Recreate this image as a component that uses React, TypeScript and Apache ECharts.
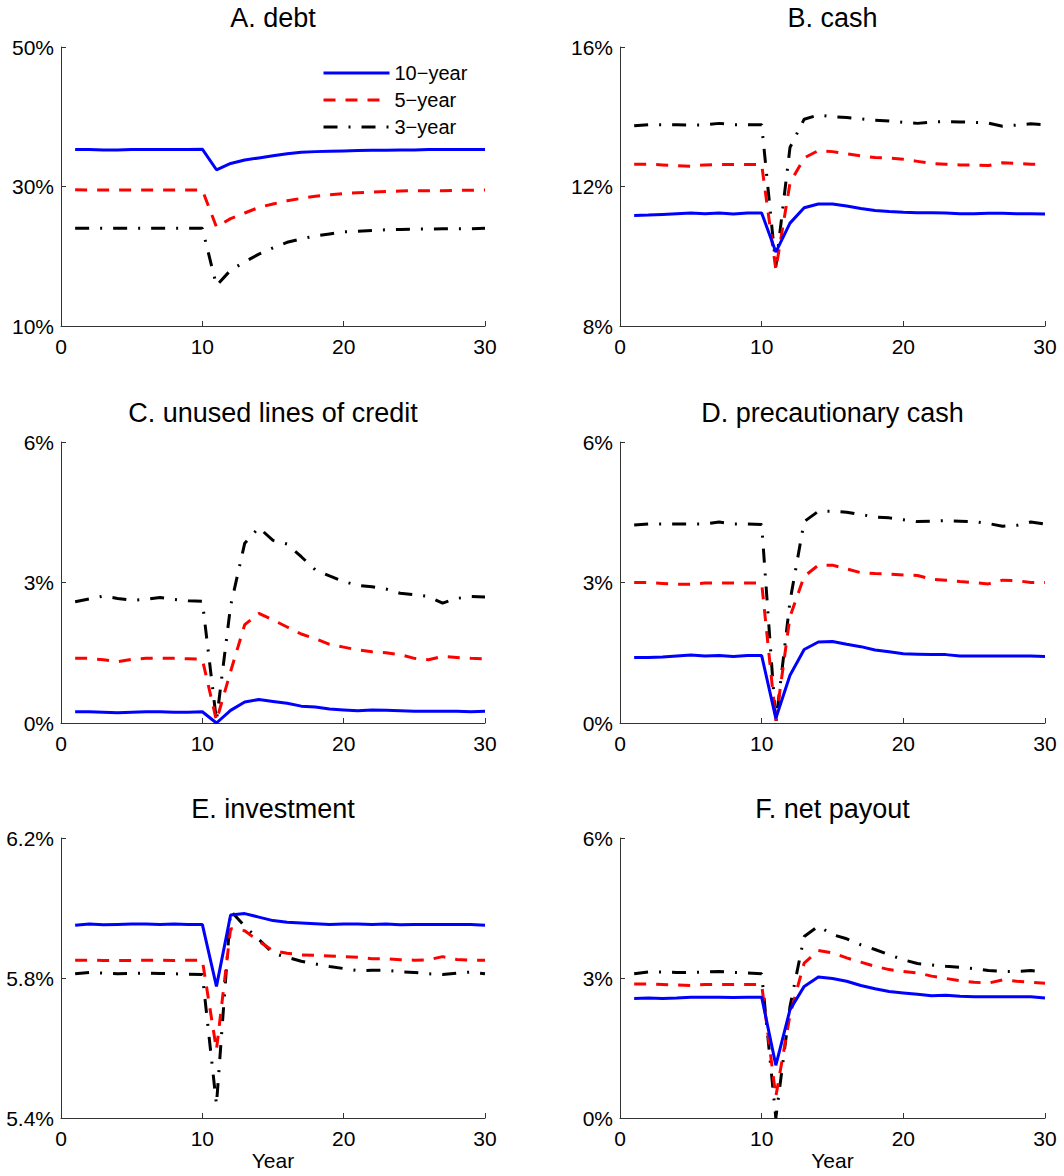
import React, { useEffect, useRef } from "react";
import * as echarts from "echarts";

const years = Array.from({ length: 30 }, (_, i) => i + 1);
const seriesNames = ["10\u2212year", "5\u2212year", "3\u2212year"];
const titles = ["A. debt", "B. cash", "C. unused lines of credit", "D. precautionary cash", "E. investment", "F. net payout"];
const xTicks = [0, 10, 20, 30];
const yTicksA = [10, 30, 50];
const yTicksB = [8, 12, 16];
const yTicksC = [0, 3, 6];
const yTicksD = [0, 3, 6];
const yTicksE = [5.4, 5.8, 6.2];
const yTicksF = [0, 3, 6];

const debt10 = [35.3,35.3,35.25,35.25,35.3,35.3,35.3,35.3,35.3,35.35,32.4,33.3,33.8,34.1,34.4,34.7,34.9,35.0,35.05,35.1,35.15,35.2,35.2,35.25,35.25,35.3,35.3,35.3,35.3,35.3];
const debt5 = [29.55,29.5,29.5,29.5,29.5,29.5,29.5,29.5,29.5,29.5,24.2,25.4,26.2,27.0,27.5,27.95,28.3,28.6,28.8,29.0,29.1,29.2,29.3,29.35,29.4,29.4,29.4,29.45,29.45,29.5];
const debt3 = [24.0,24.0,24.0,24.0,24.0,24.0,24.0,24.0,24.0,24.0,15.8,18.0,19.2,20.3,21.2,22.0,22.5,22.9,23.2,23.5,23.6,23.7,23.8,23.85,23.9,23.9,23.95,23.95,23.95,24.0];

const cash10 = [11.17,11.18,11.2,11.22,11.24,11.22,11.24,11.21,11.24,11.24,10.12,10.95,11.39,11.5,11.5,11.44,11.37,11.31,11.28,11.26,11.25,11.25,11.24,11.22,11.22,11.23,11.23,11.22,11.22,11.21];
const cash5 = [12.64,12.64,12.62,12.6,12.58,12.62,12.63,12.63,12.63,12.63,9.62,12.1,12.82,13.03,13.0,12.94,12.88,12.83,12.82,12.78,12.72,12.66,12.64,12.62,12.61,12.6,12.68,12.66,12.64,12.63];
const cash3 = [13.74,13.77,13.77,13.77,13.76,13.77,13.81,13.77,13.77,13.77,9.7,13.12,13.93,14.05,14.0,13.98,13.94,13.9,13.88,13.84,13.81,13.85,13.86,13.85,13.84,13.82,13.73,13.76,13.8,13.77];

const unused10 = [0.24,0.24,0.23,0.22,0.23,0.24,0.24,0.23,0.23,0.24,0.0,0.27,0.45,0.5,0.46,0.42,0.36,0.34,0.3,0.28,0.26,0.28,0.27,0.26,0.25,0.25,0.25,0.25,0.24,0.25];
const unused5 = [1.38,1.38,1.35,1.31,1.36,1.38,1.38,1.38,1.37,1.36,0.05,1.1,2.1,2.34,2.2,2.05,1.9,1.8,1.68,1.62,1.56,1.52,1.5,1.46,1.38,1.35,1.42,1.4,1.38,1.37];
const unused3 = [2.59,2.65,2.71,2.66,2.62,2.64,2.68,2.64,2.61,2.6,0.05,2.5,3.84,4.17,3.9,3.82,3.55,3.27,3.14,3.02,2.94,2.91,2.86,2.77,2.74,2.7,2.56,2.66,2.7,2.69];

const prec10 = [1.4,1.4,1.41,1.43,1.45,1.43,1.44,1.42,1.44,1.44,0.1,1.02,1.57,1.73,1.74,1.68,1.63,1.56,1.52,1.48,1.47,1.46,1.46,1.43,1.43,1.43,1.43,1.43,1.43,1.42];
const prec5 = [3.0,3.0,2.98,2.96,2.96,2.99,2.99,2.99,2.99,2.99,0.05,2.27,3.13,3.37,3.37,3.29,3.21,3.19,3.18,3.16,3.15,3.07,3.05,3.02,3.0,2.97,3.05,3.04,3.0,3.0];
const prec3 = [4.23,4.25,4.25,4.25,4.25,4.25,4.29,4.25,4.25,4.24,0.0,2.6,4.3,4.52,4.52,4.5,4.45,4.4,4.38,4.34,4.3,4.31,4.32,4.31,4.3,4.26,4.2,4.22,4.29,4.25];

const inv10 = [5.951,5.954,5.952,5.953,5.954,5.954,5.953,5.954,5.953,5.953,5.776,5.98,5.984,5.974,5.964,5.959,5.957,5.955,5.953,5.954,5.954,5.953,5.954,5.952,5.953,5.953,5.953,5.953,5.953,5.951];
const inv5 = [5.851,5.851,5.85,5.85,5.85,5.851,5.851,5.85,5.851,5.851,5.595,5.941,5.935,5.905,5.878,5.871,5.866,5.865,5.863,5.861,5.859,5.855,5.855,5.852,5.851,5.852,5.861,5.853,5.851,5.851];
const inv3 = [5.812,5.816,5.814,5.812,5.813,5.814,5.813,5.812,5.811,5.81,5.438,5.992,5.948,5.91,5.871,5.859,5.848,5.84,5.833,5.827,5.821,5.822,5.822,5.818,5.816,5.812,5.81,5.814,5.817,5.812];

const pay10 = [2.56,2.57,2.56,2.57,2.59,2.59,2.59,2.58,2.59,2.59,1.13,2.32,2.82,3.02,2.99,2.93,2.84,2.77,2.71,2.68,2.65,2.62,2.63,2.61,2.6,2.6,2.6,2.6,2.6,2.57];
const pay5 = [2.87,2.87,2.86,2.85,2.84,2.86,2.86,2.86,2.86,2.86,0.46,2.21,3.32,3.59,3.54,3.43,3.34,3.25,3.18,3.14,3.11,3.04,2.99,2.94,2.91,2.89,2.96,2.93,2.91,2.89];
const pay3 = [3.09,3.13,3.13,3.12,3.12,3.13,3.14,3.12,3.11,3.09,0.0,2.39,3.89,4.11,3.93,3.84,3.71,3.61,3.5,3.39,3.31,3.28,3.25,3.23,3.2,3.16,3.14,3.14,3.16,3.13];

const panelData = [
  [debt10, debt5, debt3],
  [cash10, cash5, cash3],
  [unused10, unused5, unused3],
  [prec10, prec5, prec3],
  [inv10, inv5, inv3],
  [pay10, pay5, pay3],
];
const panelTicks = [yTicksA, yTicksB, yTicksC, yTicksD, yTicksE, yTicksF];
const panelDecimals = [0, 0, 0, 0, 1, 0];

const FONT = "'Liberation Sans', Arial, Helvetica, sans-serif";
const grids = [
  { left: 61, top: 47, width: 424, height: 279 },
  { left: 620, top: 47, width: 425, height: 279 },
  { left: 61, top: 442, width: 424, height: 281 },
  { left: 620, top: 442, width: 425, height: 281 },
  { left: 61, top: 838, width: 424, height: 280 },
  { left: 620, top: 838, width: 425, height: 280 },
];
const lineStyles = [
  { color: "#0000ff", width: 3, type: "solid" },
  { color: "#ff0000", width: 3, type: [12, 10] },
  { color: "#000000", width: 3, type: [14, 11, 2, 11] },
];

export default function App() {
  const ref = useRef<HTMLDivElement>(null);
  useEffect(() => {
    if (!ref.current) return;
    const chart = echarts.init(ref.current, null, { renderer: "svg" });
    const axisColor = "#333333";
    const option: any = {
      animation: false,
      backgroundColor: "#ffffff",
      textStyle: { fontFamily: FONT },
      title: grids.map((g, i) => ({
        text: titles[i],
        left: g.left + g.width / 2,
        textAlign: "center",
        top: g.top - 43,
        padding: 0,
        textStyle: { fontFamily: FONT, fontSize: 27, fontWeight: "normal", color: "#000" },
      })),
      legend: {
        data: seriesNames,
        orient: "vertical",
        left: 322,
        top: 63,
        itemWidth: 66,
        itemHeight: 14,
        itemGap: 7,
        padding: 0,
        itemStyle: { opacity: 0 },
        lineStyle: { width: 3 },
        textStyle: { fontFamily: FONT, fontSize: 20, color: "#000" },
      },
      grid: grids,
      xAxis: grids.map((g, i) => ({
        type: "value",
        gridIndex: i,
        min: 0,
        max: 30,
        interval: 10,
        name: i >= 4 ? "Year" : "",
        nameLocation: "middle",
        nameGap: 31,
        nameTextStyle: { fontFamily: FONT, fontSize: 21, color: "#000" },
        axisLine: { show: true, onZero: false, lineStyle: { color: axisColor, width: 1 } },
        axisTick: { show: true, inside: true, length: 5, lineStyle: { color: axisColor } },
        axisLabel: { fontFamily: FONT, fontSize: 21, color: "#000", margin: 10 },
        splitLine: { show: false },
      })),
      yAxis: grids.map((g, i) => {
        const t = panelTicks[i];
        const d = panelDecimals[i];
        return {
          type: "value",
          gridIndex: i,
          min: t[0],
          max: t[t.length - 1],
          axisLine: { show: true, lineStyle: { color: axisColor, width: 1 } },
          axisTick: { show: true, inside: true, length: 5, customValues: t, lineStyle: { color: axisColor } },
          axisLabel: {
            fontFamily: FONT,
            fontSize: 21,
            color: "#000",
            margin: 7,
            customValues: t,
            formatter: (v: number) => v.toFixed(d) + "%",
          },
          splitLine: { show: false },
        };
      }),
      series: panelData.flatMap((arr, p) =>
        arr.map((vals, k) => ({
          type: "line",
          name: seriesNames[k],
          xAxisIndex: p,
          yAxisIndex: p,
          data: years.map((y, j) => [y, vals[j]]),
          symbol: "none",
          lineStyle: lineStyles[k],
          z: 10 - k,
        }))
      ),
    };
    chart.setOption(option);
    return () => chart.dispose();
  }, []);
  return (
    <div
      ref={ref}
      style={{ position: "absolute", left: 0, top: 0, width: 1064, height: 1176 }}
    />
  );
}
